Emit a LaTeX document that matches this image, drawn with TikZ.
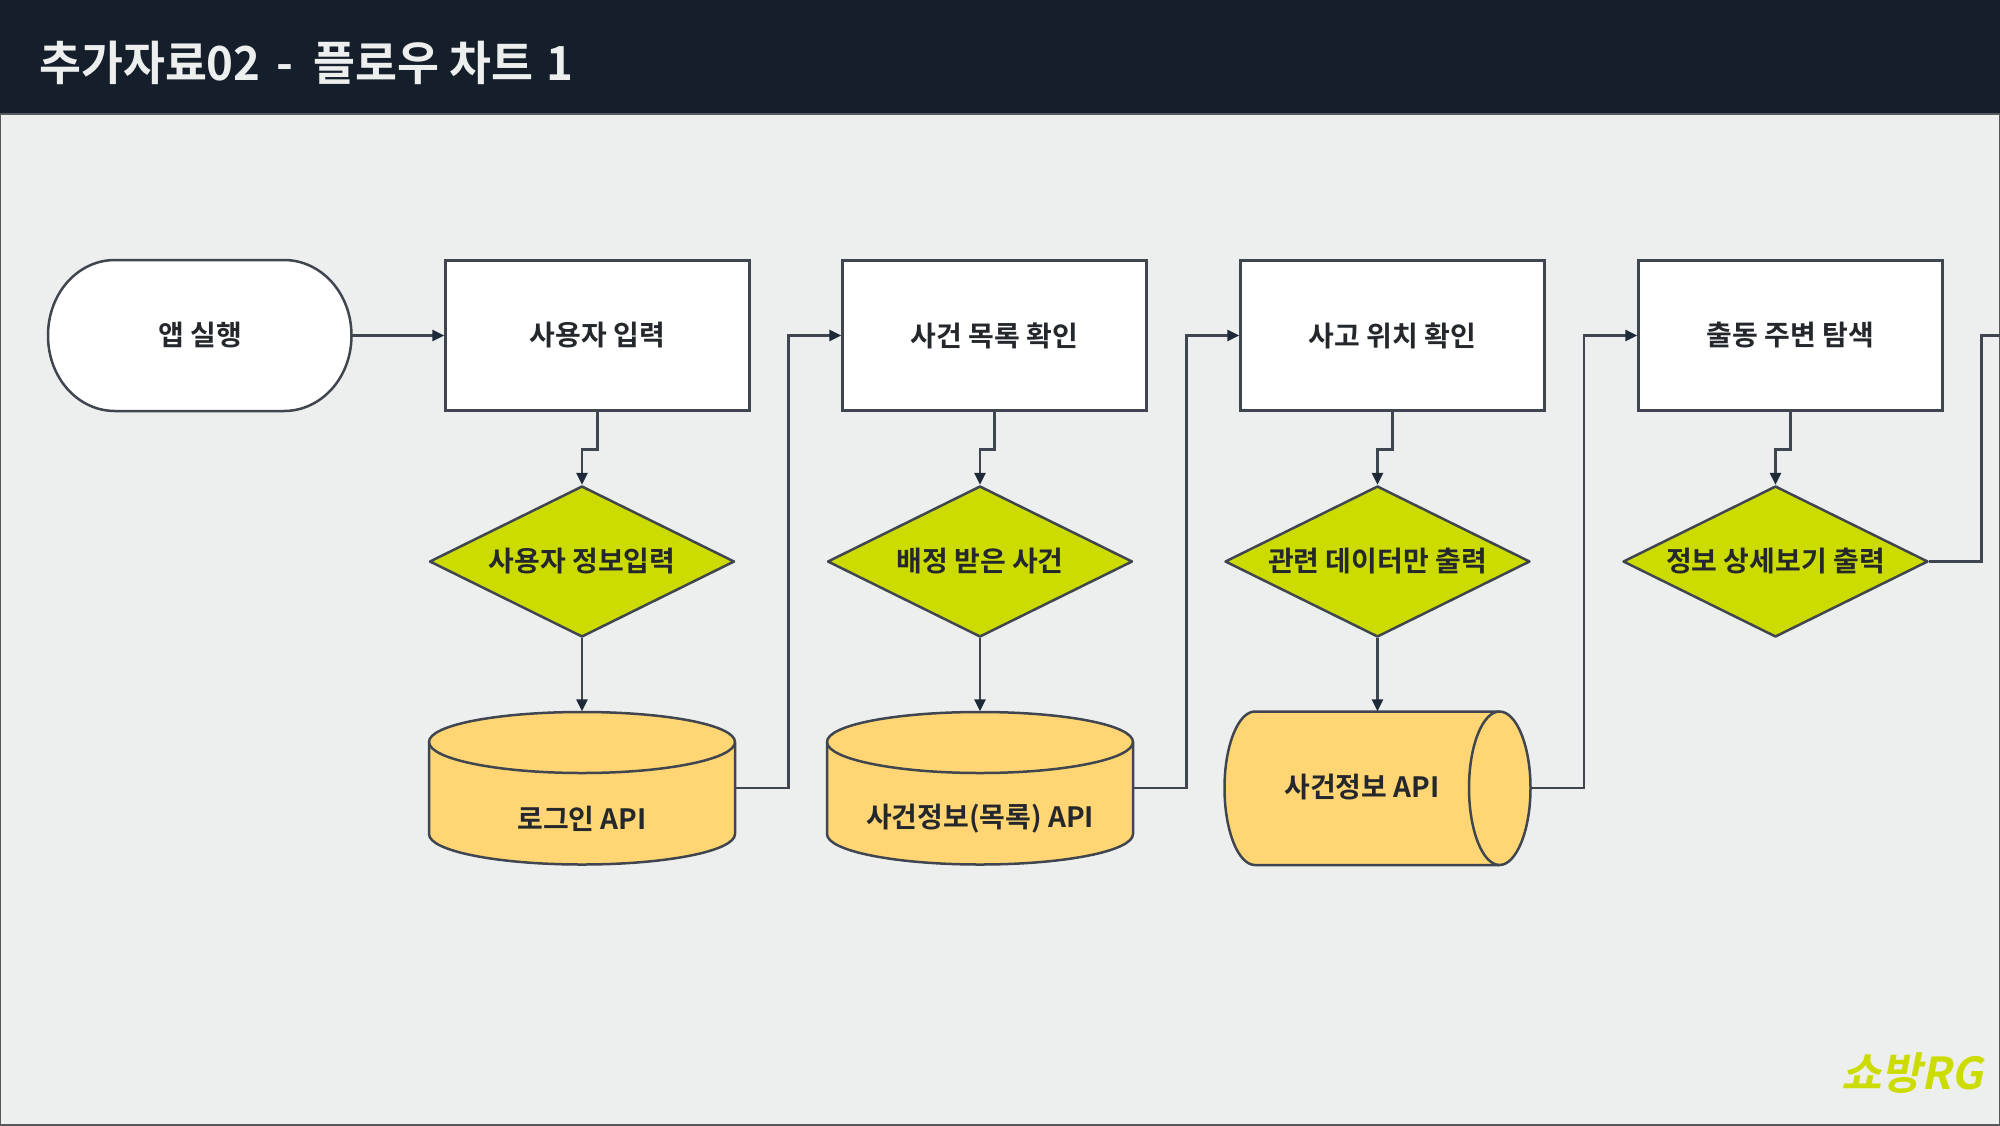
\documentclass[tikz,border=0pt]{standalone}
\usepackage{fontspec}
\setmainfont{Noto Sans CJK KR}[BoldFont={Noto Sans CJK KR Bold}]
\newfontfamily\titlefont[FakeStretch=0.97]{Noto Sans CJK KR Bold}
\usetikzlibrary{arrows.meta,shapes.geometric,calc}
\definecolor{bgc}{HTML}{EDEFEE}
\definecolor{headc}{HTML}{141F2B}
\definecolor{linec}{HTML}{40464F}
\definecolor{tipc}{HTML}{1E2A38}
\definecolor{txtc}{HTML}{24282C}
\definecolor{lime}{HTML}{CDDC00}
\definecolor{cyl}{HTML}{FFD673}
\definecolor{frame}{HTML}{55595D}
\tikzset{
  x=1pt,y=-1pt,
  lbl/.style={font=\bfseries\fontsize{28}{32}\selectfont,text=txtc,inner sep=0pt},
  boxn/.style={rectangle,draw=linec,line width=2.5pt,fill=white,minimum width=304pt,minimum height=150pt,lbl},
  decis/.style={diamond,aspect=2,draw=linec,line width=2.5pt,line join=round,fill=lime,minimum width=305pt,minimum height=151pt,lbl},
  ghost/.style={rectangle,inner sep=0pt,minimum width=306pt,minimum height=153pt},
  shp/.style={draw=linec,line width=2.5pt},
  conn/.style={draw=linec,line width=2.6pt,-{Triangle[length=12pt,width=11pt,color=tipc]}},
  plain/.style={draw=linec,line width=2.6pt},
}
\newcommand{\vcyl}[1]{%
  \begin{scope}[shift={(#1,0)}]
    \path[shp,fill=cyl] (-153,742) -- (-153,834)
      .. controls (-153,851) and (-84.5,864.5) .. (0,864.5)
      .. controls (84.5,864.5) and (153,851) .. (153,834)
      -- (153,742)
      .. controls (153,725) and (84.5,712) .. (0,712)
      .. controls (-84.5,712) and (-153,725) .. (-153,742) -- cycle;
    \path[shp] (-153,742)
      .. controls (-153,759) and (-84.5,773) .. (0,773)
      .. controls (84.5,773) and (153,759) .. (153,742);
  \end{scope}}
\begin{document}
\begin{tikzpicture}
\useasboundingbox (0,0) rectangle (2000,1125);
\fill[bgc] (0,0) rectangle (2000,1125);
\draw[frame,line width=2pt] (0,0) rectangle (2000,1125);
\fill[headc] (0,0) rectangle (2000,113);
\draw[frame,line width=2pt] (0,114) -- (2000,114);
\node[anchor=west,inner sep=0pt,text=bgc,font=\titlefont\fontsize{47}{52}\selectfont] (title) at (39,63) {\spaceskip=0.34em 추가자료02 -\kern4pt{} 플로우\kern-6pt{} 차트\kern-3pt{} 1};

% terminator
\path[shp,fill=white] (115,260) -- (284,260)
  .. controls (321,260) and (351.5,293) .. (351.5,335.5)
  .. controls (351.5,378) and (321,411) .. (284,411)
  -- (115,411)
  .. controls (78,411) and (48,378) .. (48,335.5)
  .. controls (48,293) and (78,260) .. (115,260) -- cycle;
\node[ghost,minimum width=303pt,minimum height=151pt] (t0) at (200,335.5) {};
\node[lbl] (t0t) at (200,335) {앱 실행};

% process boxes
\node[boxn] (r1) at (597.5,335.5) {사용자 입력};
\node[boxn] (r2) at (994.5,335.5) {사건 목록 확인};
\node[boxn] (r3) at (1392.5,335.5) {사고 위치 확인};
\node[boxn] (r4) at (1790.5,335.5) {출동 주변 탐색};

% decisions
\node[decis] (d1) at (582,561.5) {사용자 정보입력};
\node[decis] (d2) at (980,561.5) {배정 받은 사건};
\node[decis] (d3) at (1377.5,561.5) {관련 데이터만 출력};
\node[decis] (d4) at (1775.5,561.5) {정보 상세보기 출력};

% vertical cylinders
\vcyl{582}
\vcyl{980}
\node[ghost] (c1) at (582,788) {};
\node[ghost] (c2) at (980,788) {};
\node[lbl] (c1t) at (582,819) {로그인 API};
\node[lbl] (c2t) at (980,819) {사건정보(목록) API};

% horizontal cylinder
\path[shp,fill=cyl] (1499.5,711.5) -- (1255,711.5)
  .. controls (1238,711.5) and (1224.5,746) .. (1224.5,788)
  .. controls (1224.5,830) and (1238,865) .. (1255,865)
  -- (1499.5,865)
  .. controls (1516.5,865) and (1530.5,830) .. (1530.5,788)
  .. controls (1530.5,746) and (1516.5,711.5) .. (1499.5,711.5) -- cycle;
\path[shp] (1499.5,711.5)
  .. controls (1482.5,711.5) and (1469,746) .. (1469,788)
  .. controls (1469,830) and (1482.5,865) .. (1499.5,865);
\node[ghost] (c3) at (1377.5,788) {};
\node[lbl] (c3t) at (1362,787.5) {사건정보 API};

% connectors
\draw[conn] (t0.east) -- (r1.west);
\foreach \n in {1,2,3,4}{
  \draw[conn] (r\n.south) -- ++(0,37.5) -| (d\n.north);
}
\foreach \n in {1,2,3}{
  \draw[conn] (d\n.south) -- (c\n.north);
}
\coordinate (k1) at (788.5,450);
\coordinate (k2) at (1186.5,450);
\coordinate (k3) at (1584,450);
\coordinate (k4) at (1981.5,450);
\draw[conn] (c1.east) -| (k1) |- (r2.west);
\draw[conn] (c2.east) -| (k2) |- (r3.west);
\draw[conn] (c3.east) -| (k3) |- (r4.west);
\coordinate (e4) at (2000,335.5);
\draw[plain] (d4.east) -| (k4) |- (e4);

% logo
\node[anchor=east,inner sep=0pt,text=lime,font=\bfseries\fontsize{44}{50}\selectfont,xslant=0.2,transform shape] (logo) at (1987,1073) {쇼방RG};
\end{tikzpicture}
\end{document}
